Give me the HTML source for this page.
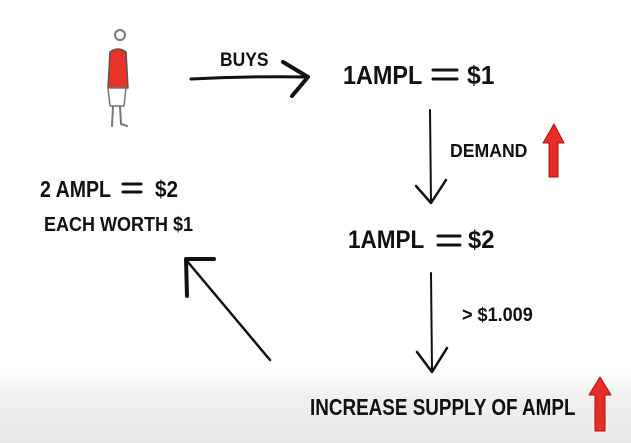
<!DOCTYPE html>
<html><head><style>
html,body{margin:0;padding:0}
body{width:631px;height:443px;position:relative;overflow:hidden;background:linear-gradient(to bottom,#fff 0,#fff 372px,#f0f0f0 395px,#e9e9e9 443px);font-family:"Liberation Sans",sans-serif;font-weight:bold;color:#111}
.t{position:absolute;white-space:nowrap;transform-origin:0 0;line-height:1}
</style></head><body>
<svg width="631" height="443" style="position:absolute;left:0;top:0" fill="none" stroke="#111" stroke-linecap="round" stroke-linejoin="round">
<circle cx="120" cy="35" r="5" stroke="#777" stroke-width="2"/>
<path d="M110 52 Q118 46 126 52 L128 88 L108 88 Z" fill="#e8332a" stroke="#555" stroke-width="1.5"/>
<path d="M108 88 L126 88 L124 106 L110 106 Z" fill="#fff" stroke="#777" stroke-width="1.5"/>
<path d="M113 106 L112 126 M120 106 L121 124 L127 126" stroke="#777" stroke-width="2"/>
<path d="M191 79 Q250 76 308 77" stroke-width="3"/>
<path d="M283 62 L308 77 L292 96" stroke-width="4"/>
<path d="M430 110 L431 202" stroke-width="2"/>
<path d="M416 186 L431 203 L446 180" stroke-width="2.5"/>
<path d="M431 273 L432 370" stroke-width="2"/>
<path d="M417 352 L432 372 L447 348" stroke-width="2.5"/>
<path d="M270 360 L187 261" stroke-width="2.5"/>
<path d="M214 259 L186 259 L187 296" stroke-width="4"/>
<path d="M549 177 L558 177 L558 143 L564 143 L554 124 L543 143 L549 143 Z" fill="#e42e27" stroke="#a11" stroke-width="1"/>
<path d="M595 431 L605 431 L605 395 L611 395 L600 377 L589 395 L595 395 Z" fill="#e42e27" stroke="#a11" stroke-width="1"/>
<path d="M433 70 H457 M433 79 H457" stroke-width="3"/>
<path d="M438 236 H460 M438 245 H460" stroke-width="3"/>
<path d="M123 184 H141 M123 192 H141" stroke-width="3"/>
</svg>
<div class="t" style="left:220px;top:51px;font-size:19px;transform:scaleX(0.92)">BUYS</div>
<div class="t" style="left:343px;top:62px;font-size:26px;transform:scaleX(0.9)">1AMPL</div>
<div class="t" style="left:467px;top:62px;font-size:26px;transform:scaleX(0.95)">$1</div>
<div class="t" style="left:450px;top:142px;font-size:18px;transform:scaleX(0.98)">DEMAND</div>
<div class="t" style="left:348px;top:228px;font-size:25px;transform:scaleX(0.9)">1AMPL</div>
<div class="t" style="left:468px;top:228px;font-size:25px;transform:scaleX(0.95)">$2</div>
<div class="t" style="left:40px;top:178px;font-size:23px;transform:scaleX(0.85)">2 AMPL</div>
<div class="t" style="left:155px;top:178px;font-size:23px;transform:scaleX(0.9)">$2</div>
<div class="t" style="left:44px;top:215px;font-size:20px;transform:scaleX(0.9)">EACH WORTH $1</div>
<div class="t" style="left:462px;top:306px;font-size:19px;transform:scaleX(0.95)">&gt; $1.009</div>
<div class="t" style="left:310px;top:396px;font-size:23px;transform:scaleX(0.82)">INCREASE SUPPLY OF AMPL</div>
</body></html>
